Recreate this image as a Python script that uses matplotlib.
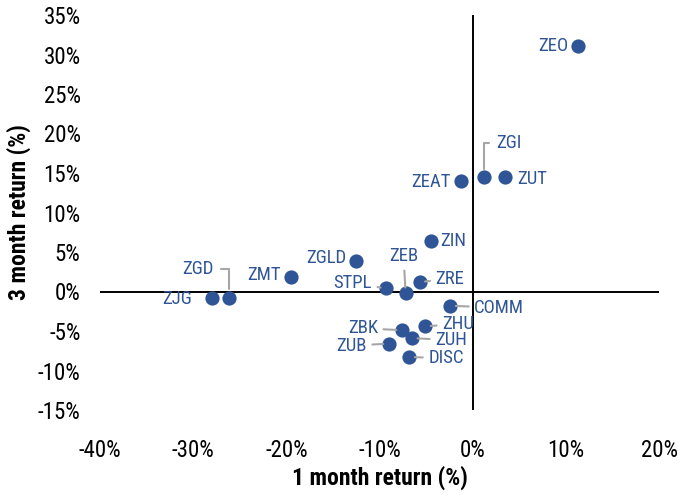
import matplotlib
matplotlib.use("Agg")
import matplotlib.pyplot as plt
from matplotlib import font_manager as fm
from matplotlib.ticker import PercentFormatter

# pick a narrow sans font if there is one, else plain Liberation Sans
avail = {(f.name, str(f.stretch)) for f in fm.fontManager.ttflist}
fam_names = {f.name for f in fm.fontManager.ttflist}
font = "Liberation Sans"
stretch = "normal"
narrow = False
if "Liberation Sans Narrow" in fam_names:
    font, narrow = "Liberation Sans Narrow", True
elif "Roboto Condensed" in fam_names:
    font, narrow = "Roboto Condensed", True
elif ("DejaVu Sans", "condensed") in avail or ("DejaVu Sans", "semi-condensed") in avail:
    font, stretch, narrow = "DejaVu Sans", "condensed", True

plt.rcParams["font.family"] = [font, "DejaVu Sans"]
plt.rcParams["font.stretch"] = stretch
plt.rcParams["axes.unicode_minus"] = False

# fund tickers, 1 month return (%), 3 month return (%)
names = ["ZEO", "ZGI", "ZUT", "ZEAT", "ZIN", "ZGLD", "ZMT", "ZGD", "ZJG", "STPL",
         "ZEB", "ZRE", "COMM", "ZHU", "ZBK", "ZUH", "ZUB", "DISC"]
ret_1m = [11.3, 1.2, 3.5, -1.3, -4.5, -12.5, -19.5, -26.2, -28.0, -9.3,
          -7.2, -5.7, -2.4, -5.1, -7.6, -6.5, -9.0, -6.8]
ret_3m = [31.1, 14.5, 14.5, 14.0, 6.4, 3.9, 1.8, -0.8, -0.8, 0.4,
          -0.2, 1.2, -1.8, -4.4, -4.9, -5.9, -6.6, -8.3]

# label offsets in pixels (dx, dy), alignment, leader line style
label_pos = {
    "ZEO": (-10, 0, "right", None),
    "ZGI": (12, 34, "left", "elbow"),
    "ZUT": (12, -2, "left", None),
    "ZEAT": (-10, -1, "right", None),
    "ZIN": (9, 0, "left", None),
    "ZGLD": (-10, 3, "right", None),
    "ZMT": (-10, 2, "right", None),
    "ZGD": (-15, 29, "right", "elbow"),
    "ZJG": (-20, -1, "right", None),
    "STPL": (-14, 5, "right", "line"),
    "ZEB": (-2, 37, "center", "line"),
    "ZRE": (16, 3, "left", "line"),
    "COMM": (24, -2, "left", "line"),
    "ZHU": (17, 2, "left", "line"),
    "ZBK": (-24, 2, "right", "line"),
    "ZUH": (23, -2, "left", "line"),
    "ZUB": (-22, -2, "right", "line"),
    "DISC": (19, -1, "left", "line"),
}

blue = "#2F5597"
grey = "#A6A6A6"
tick_fs = 16.5 if narrow else 13.5
lab_fs = 13.5 if narrow else 12
axis_fs = 17 if narrow else 14

fig = plt.figure(figsize=(6.97, 4.95), dpi=100)
ax = fig.add_axes([100 / 697, 1 - 410 / 495, 559 / 697, 395 / 495])

ax.scatter(ret_1m, ret_3m, s=105, color=blue, zorder=3, linewidths=0)

px = 72 / 100
for n, x, y in zip(names, ret_1m, ret_3m):
    dx, dy, ha, lead = label_pos[n]
    arrow = None
    if lead == "line":
        arrow = dict(arrowstyle="-", color=grey, lw=1.5, shrinkA=2, shrinkB=4)
    elif lead == "elbow":
        arrow = dict(arrowstyle="-", color=grey, lw=1.5, shrinkA=3, shrinkB=6,
                     connectionstyle="angle,angleA=0,angleB=90,rad=0")
    ax.annotate(n, (x, y), xytext=(dx * px, dy * px), textcoords="offset points",
                ha=ha, va="center", fontsize=lab_fs, color=blue,
                arrowprops=arrow, zorder=4)

ax.axhline(0, color="black", lw=1.4, zorder=1)
ax.axvline(0, color="black", lw=1.4, zorder=1)

ax.set_xlim(-40, 20)
ax.set_ylim(-15, 35)
ax.set_xticks(range(-40, 21, 10))
ax.set_yticks(range(-15, 36, 5))
ax.xaxis.set_major_formatter(PercentFormatter(decimals=0))
ax.yaxis.set_major_formatter(PercentFormatter(decimals=0))
for s in ax.spines.values():
    s.set_visible(False)
ax.tick_params(length=0, labelsize=tick_fs)
ax.tick_params(axis="x", pad=21)
ax.tick_params(axis="y", pad=14)

fig.text(379.5 / 697, 1 - 478 / 495, "1 month return (%)", fontsize=axis_fs,
         fontweight="bold", ha="center", va="center")
fig.text(19 / 697, 1 - 212 / 495, "3 month return (%)", fontsize=axis_fs,
         fontweight="bold", ha="center", va="center", rotation=90)

fig.savefig("out.png", dpi=100)
